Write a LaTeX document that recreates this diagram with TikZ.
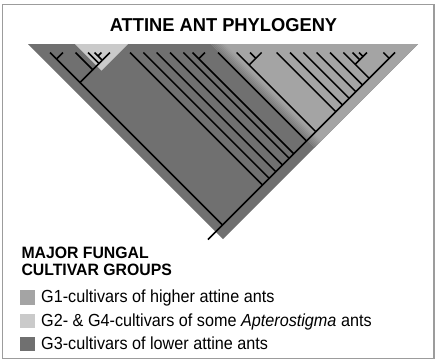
\documentclass[tikz,border=0pt]{standalone}
\usepackage{fontspec}
\setmainfont{Liberation Sans}
\definecolor{gthree}{HTML}{707070}
\definecolor{gone}{HTML}{A4A4A4}
\definecolor{gtwo}{HTML}{CACACA}
\definecolor{framegray}{HTML}{9C9C9C}
\newcommand\cladenode[3]{\coordinate (#1) at ({(#2+#3)/2},{52.5+(#3-#2)/2});}
\newcommand\tallbox[2]{\scalebox{1}[#1]{#2}}
\begin{document}
\begin{tikzpicture}[x=1pt,y=-1pt,
  branch/.style={black,line width=1.45pt},
  txt/.style={inner sep=0pt,anchor=base west},
  legsq/.style={minimum size=14.5pt,inner sep=0pt,anchor=north west}]
\useasboundingbox (0,0) rectangle (436,360);
% background regions
\fill[gthree] (28,44) -- (418,44) -- (223,239) -- cycle;
\fill[gone] (211,44) -- (418,44) -- (314.5,147.5) -- cycle;
\begin{scope}
  \clip (211,44) -- (418,44) -- (314.5,147.5) -- cycle;
  \foreach \i in {0,...,6}{
    \pgfmathtruncatemacro\q{20+\i*12}
    \fill[gone!\q!gthree] ({211+2*\i},44) -- ({213+2*\i},44) -- ({333+2*\i},164) -- ({331+2*\i},164) -- cycle;
  }
\end{scope}
\fill[gtwo] (75,44) -- (128,44) -- (101.5,70.5) -- cycle;
% tips
\foreach \n/\x in {t1/50,t2/63,t3/75.5,t4/88,t5/94.5,t6/101.5,t7/110,
  m1/130,m2/143.3,m3/156.7,m4/170,m5/183.3,m6/192.5,m7/205,
  r0/218,a1/236.7,a2/250,a3/261.7,s1/276.7,s2/290,s3/303.3,s4/316.7,s5/330,
  u1/343.3,u2/352.5,u3/359,u4/367,v1/383.3,v2/395}
  {\coordinate (\n) at (\x,52.5);}
% internal nodes
\cladenode{n12}{50}{63}
\cladenode{n56}{94.5}{101.5}
\cladenode{n567}{94.5}{110}
\cladenode{n4567}{88}{110}
\cladenode{nX}{75.5}{110}
\cladenode{nL}{50}{110}
\cladenode{nm67}{192.5}{205}
\cladenode{na23}{250}{261.7}
\cladenode{na}{236.7}{261.7}
\cladenode{nu34}{359}{367}
\cladenode{nu234}{352.5}{367}
\cladenode{nu}{343.3}{367}
\cladenode{nv}{383.3}{395}
\cladenode{b1}{343.3}{395}
\cladenode{b2}{330}{395}
\cladenode{b3}{316.7}{395}
\cladenode{b4}{303.3}{395}
\cladenode{b5}{290}{395}
\cladenode{b6}{276.7}{395}
\cladenode{b7}{236.7}{395}
\cladenode{b8}{218}{395}
\cladenode{b9}{192.5}{395}
\cladenode{b10}{183.3}{395}
\cladenode{b11}{170}{395}
\cladenode{b12}{156.7}{395}
\cladenode{b13}{143.3}{395}
\cladenode{b14}{130}{395}
\cladenode{root}{50}{395}
\coordinate (stem) at (208,239.5);
% branches
\foreach \c/\p in {t1/n12,t2/n12,t5/n56,t6/n56,n56/n567,t7/n567,t4/n4567,n567/n4567,
  t3/nX,n4567/nX,n12/nL,nX/nL,m6/nm67,m7/nm67,a2/na23,a3/na23,a1/na,na23/na,
  u3/nu34,u4/nu34,u2/nu234,nu34/nu234,u1/nu,nu234/nu,v1/nv,
  nu/b1,s5/b2,s4/b3,s3/b4,s2/b5,s1/b6,na/b7,r0/b8,nm67/b9,m5/b10,m4/b11,
  m3/b12,m2/b13,m1/b14,nL/root}
  {\draw[branch] (\c) -- (\p);}
\draw[branch] (v2) -- (nv) -- (b1) -- (b2) -- (b3) -- (b4) -- (b5) -- (b6) -- (b7)
  -- (b8) -- (b9) -- (b10) -- (b11) -- (b12) -- (b13) -- (b14) -- (root) -- (stem);
% frame
\draw[framegray,line width=1.2pt] (2.3,4.8) rectangle (434,358.5);
% texts
\node[inner sep=0pt,anchor=base,font=\fontsize{18.3}{20}\selectfont\bfseries] (title) at (223.5,31.6) {\tallbox{1.02}{ATTINE ANT PHYLOGENY}};
\node[txt,font=\fontsize{15.8}{14.8}\selectfont\bfseries] (head) at (21.3,275) {\tallbox{1.04}{\begin{tabular}[b]{@{}l@{}}MAJOR FUNGAL\\CULTIVAR GROUPS\end{tabular}}};
\node[legsq,fill=gone] (sq1) at (20.2,290) {};
\node[legsq,fill=gtwo] (sq2) at (20.2,313.3) {};
\node[legsq,fill=gthree] (sq3) at (20.2,336.7) {};
\node[txt,font=\fontsize{16.2}{18}\selectfont] (l1) at (41,302.8) {\tallbox{1.08}{G1-cultivars of higher attine ants}};
\node[txt,font=\fontsize{16.2}{18}\selectfont] (l2) at (41,326.1) {\tallbox{1.08}{G2- \& G4-cultivars of some \textit{Apterostigma} ants}};
\node[txt,font=\fontsize{16.2}{18}\selectfont] (l3) at (41,349.5) {\tallbox{1.08}{G3-cultivars of lower attine ants}};
\end{tikzpicture}
\end{document}
